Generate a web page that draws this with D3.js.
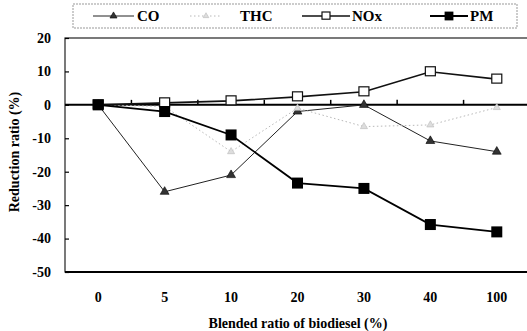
<!DOCTYPE html>
<html>
<head>
<meta charset="utf-8">
<script src="https://cdn.jsdelivr.net/npm/d3@7"></script>
<style>
  body { margin: 0; background: #fff; }
  svg { display: block; font-family: "Liberation Serif", "Times New Roman", serif; font-weight: bold; }
</style>
</head>
<body>
<div id="chart"></div>
<script>
// data
const blends = ['0', '5', '10', '20', '30', '40', '100'];
const co = [0, -26, -21, -2, 0, -10.8, -14];
const thc = [0, -0.5, -14, -1, -6.5, -6, -0.8];
const nox = [0, 0.6, 1.2, 2.4, 3.9, 9.9, 7.7];
const pm = [0, -2, -9, -23.4, -25, -35.8, -38];
const yTicks = [20, 10, 0, -10, -20, -30, -40, -50];

const series = [
  { name: 'CO', values: co, color: '#222', width: 1, dash: null, marker: 'tri' },
  { name: 'THC', values: thc, color: '#b8b8b8', width: 1, dash: '1.5,2.5', marker: 'dot' },
  { name: 'NOx', values: nox, color: '#111', width: 1.6, dash: null, marker: 'open' },
  { name: 'PM', values: pm, color: '#000', width: 1.8, dash: null, marker: 'fill' }
];

const W = 527, H = 331;
const MARGIN_LEFT = 65, MARGIN_TOP = 38, PLOT_RIGHT = 530, PLOT_BOTTOM = 272;

const $svg = d3.select('#chart').append('svg').attr('width', W).attr('height', H);

const scaleX = d3.scalePoint().domain(blends).range([MARGIN_LEFT, PLOT_RIGHT]).padding(0.5);
const scaleY = d3.scaleLinear().domain([-50, 20]).range([PLOT_BOTTOM, MARGIN_TOP]);
const step = scaleX.step();

// frame
$svg.append('rect')
  .attr('x', MARGIN_LEFT).attr('y', MARGIN_TOP)
  .attr('width', PLOT_RIGHT - MARGIN_LEFT).attr('height', PLOT_BOTTOM - MARGIN_TOP)
  .attr('fill', 'none').attr('stroke', '#222').attr('stroke-width', 1.2);
$svg.append('line')
  .attr('x1', MARGIN_LEFT).attr('x2', PLOT_RIGHT)
  .attr('y1', PLOT_BOTTOM).attr('y2', PLOT_BOTTOM)
  .attr('stroke', '#000').attr('stroke-width', 2.2);

// y axis, ticks pointing inward
const axisY = $svg.append('g')
  .attr('transform', `translate(${MARGIN_LEFT},0)`)
  .call(d3.axisRight(scaleY).tickValues(yTicks).tickSize(4).tickFormat(''));
axisY.select('.domain').remove();
axisY.selectAll('line').attr('stroke', '#000').attr('stroke-width', 1.2);

$svg.append('g').selectAll('text')
  .data(yTicks)
  .join('text')
  .attr('x', 51)
  .attr('y', d => scaleY(d))
  .attr('dy', '0.35em')
  .attr('text-anchor', 'end')
  .attr('font-size', 14)
  .text(d => d);

// zero line with category-boundary ticks
$svg.append('line')
  .attr('x1', MARGIN_LEFT).attr('x2', PLOT_RIGHT)
  .attr('y1', scaleY(0)).attr('y2', scaleY(0))
  .attr('stroke', '#000').attr('stroke-width', 2);
$svg.append('g').selectAll('line')
  .data(blends.slice(1))
  .join('line')
  .attr('x1', d => scaleX(d) - step / 2).attr('x2', d => scaleX(d) - step / 2)
  .attr('y1', scaleY(0)).attr('y2', scaleY(0) - 5)
  .attr('stroke', '#000').attr('stroke-width', 1.5);

// x labels
$svg.append('g').selectAll('text')
  .data(blends)
  .join('text')
  .attr('x', d => scaleX(d))
  .attr('y', 302)
  .attr('text-anchor', 'middle')
  .attr('font-size', 14)
  .text(d => d);

// axis titles
$svg.append('text')
  .attr('x', 298).attr('y', 328)
  .attr('text-anchor', 'middle')
  .attr('font-size', 14)
  .text('Blended ratio of biodiesel (%)');
$svg.append('text')
  .attr('transform', 'translate(19,152) rotate(-90)')
  .attr('text-anchor', 'middle')
  .attr('font-size', 14)
  .text('Reduction ratio (%)');

// markers
function drawMarker(g, type, x, y, color, k = 1) {
  if (type === 'tri') {
    g.append('path')
      .attr('d', d3.symbol(d3.symbolTriangle, 34 * k * k)())
      .attr('transform', `translate(${x},${y})`)
      .attr('fill', '#333').attr('stroke', '#000').attr('stroke-width', 0.6);
  } else if (type === 'dot') {
    g.append('path')
      .attr('d', d3.symbol(d3.symbolTriangle, 22 * k * k)())
      .attr('transform', `translate(${x},${y})`)
      .attr('fill', '#ddd').attr('stroke', '#bbb').attr('stroke-width', 0.6);
  } else if (type === 'open') {
    g.append('rect')
      .attr('x', x - 5 * k).attr('y', y - 5 * k).attr('width', 10 * k).attr('height', 9 * k)
      .attr('fill', '#fff').attr('stroke', color).attr('stroke-width', 1.2);
  } else {
    g.append('rect')
      .attr('x', x - 5.5 * k).attr('y', y - 5.5 * k).attr('width', 11 * k).attr('height', 11 * k)
      .attr('fill', color);
  }
}

const line = d3.line()
  .x((d, i) => scaleX(blends[i]))
  .y(d => scaleY(d));

series.forEach(s => {
  const g = $svg.append('g');
  g.append('path')
    .attr('d', line(s.values))
    .attr('fill', 'none')
    .attr('stroke', s.color)
    .attr('stroke-width', s.width)
    .attr('stroke-dasharray', s.dash);
  s.values.forEach((v, i) => drawMarker(g, s.marker, scaleX(blends[i]), scaleY(v), s.color));
});

// legend
$svg.append('rect')
  .attr('x', 73).attr('y', 4).attr('width', 444).attr('height', 24)
  .attr('fill', '#fff').attr('stroke', '#999').attr('stroke-width', 1)
  .attr('stroke-dasharray', '2,1');
const legendPos = [
  { x1: 93, x2: 134, tx: 137 },
  { x1: 190, x2: 222, tx: 240 },
  { x1: 302, x2: 350, tx: 352 },
  { x1: 430, x2: 468, tx: 470 }
];
series.forEach((s, i) => {
  const p = legendPos[i];
  const g = $svg.append('g');
  g.append('line')
    .attr('x1', p.x1).attr('x2', p.x2).attr('y1', 16).attr('y2', 16)
    .attr('stroke', s.color).attr('stroke-width', s.width)
    .attr('stroke-dasharray', s.dash);
  drawMarker(g, s.marker, (p.x1 + p.x2) / 2, 16, s.color, 0.8);
  g.append('text')
    .attr('x', p.tx).attr('y', 21)
    .attr('font-size', 15)
    .text(s.name);
});
</script>
</body>
</html>
